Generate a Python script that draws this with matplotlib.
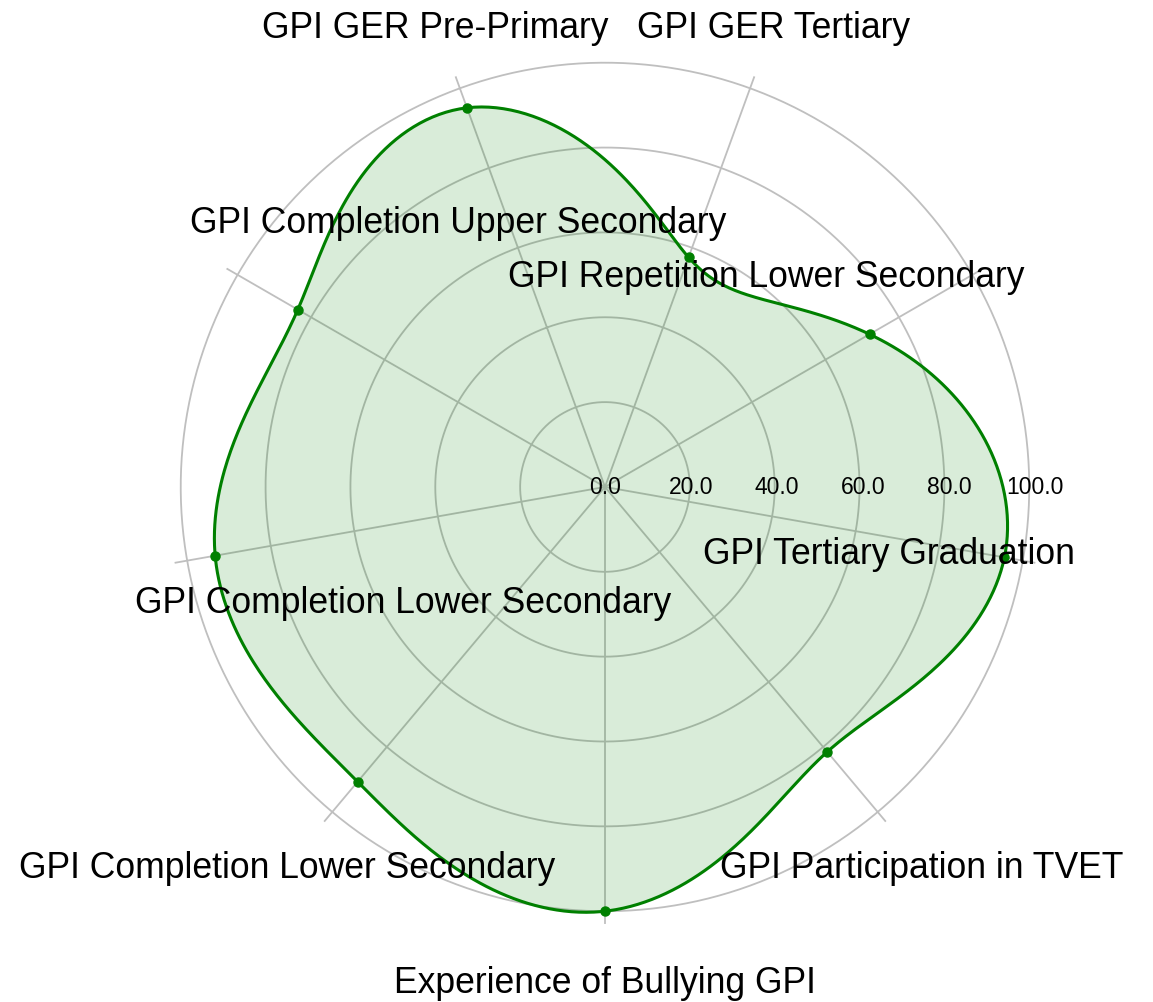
import numpy as np
import matplotlib
matplotlib.use("Agg")
import matplotlib.pyplot as plt
from matplotlib.transforms import ScaledTranslation

# ---------------- data ----------------
categories = [
    "GPI GER Pre-Primary",
    "GPI GER Tertiary",
    "GPI Repetition Lower Secondary",
    "GPI Tertiary Graduation",
    "GPI Participation in TVET",
    "Experience of Bullying GPI",
    "GPI Completion Lower Secondary",
    "GPI Completion Lower Secondary",
    "GPI Completion Upper Secondary",
]
values = [95.1, 57.6, 72.0, 95.6, 81.5, 100.0, 90.7, 93.3, 83.6]
r_ticks = [0, 20, 40, 60, 80, 100]
r_tick_labels = [f"{v:.1f}" for v in r_ticks]

# ---------------- layout / style ----------------
plt.rcParams["font.family"] = ["Liberation Sans", "DejaVu Sans"]
LINE_COLOR = "green"
GRID_COLOR = "#bfbfbf"
R_MAX = 103
R_LABEL = 116
# (horizontal alignment, dx pixels right, dy pixels down) for each category label
label_layout = [
    ("center", -1.6, 12.7),
    ("center", 0.6, 12.7),
    ("right", -6.4, 45.2),
    ("right", -14.9, -9.0),
    ("center", 0.5, 12.8),
    ("center", 0.0, 12.7),
    ("center", -1.5, 12.8),
    ("left", 14.9, 39.5),
    ("left", 11.4, -8.8),
]


def periodic_cubic_spline(y, samples_per_seg=80):
    """Smooth closed curve (periodic cubic spline) through equally spaced nodes."""
    y = np.asarray(y, dtype=float)
    n = len(y)
    h = 2 * np.pi / n
    A = np.zeros((n, n))
    for i in range(n):
        A[i, i] = 4.0
        A[i, (i - 1) % n] = 1.0
        A[i, (i + 1) % n] = 1.0
    rhs = 6.0 / h ** 2 * (np.roll(y, -1) - 2 * y + np.roll(y, 1))
    M = np.linalg.solve(A, rhs)
    t = np.linspace(0, 2 * np.pi, n * samples_per_seg + 1)
    idx = np.minimum((t // h).astype(int), n - 1)
    s = t - idx * h
    j = (idx + 1) % n
    yi, yj, Mi, Mj = y[idx], y[j], M[idx], M[j]
    val = (Mi * (h - s) ** 3 / (6 * h) + Mj * s ** 3 / (6 * h)
           + (yi - Mi * h ** 2 / 6) * (h - s) / h + (yj - Mj * h ** 2 / 6) * s / h)
    return t, val


n = len(categories)
angles = np.arange(n) * 2 * np.pi / n

fig = plt.figure(figsize=(11.53, 10.03), dpi=100)
ax = fig.add_axes([0.1457, 0.0778, 0.758, 0.8714], projection="polar")
ax.set_theta_offset(np.deg2rad(110))
ax.set_theta_direction(-1)
ax.set_ylim(0, R_MAX)

ax.set_xticks(angles)
ax.set_xticklabels([])
ax.set_yticks([])
ax.xaxis.grid(True, color=GRID_COLOR, linewidth=1.3, zorder=1)
ax.spines["polar"].set_visible(False)

# concentric grid circles
circ_t = np.linspace(0, 2 * np.pi, 721)
for rv in r_ticks[1:]:
    ax.plot(circ_t, np.full_like(circ_t, rv), color=GRID_COLOR, linewidth=1.3, zorder=1)

t_s, r_s = periodic_cubic_spline(values)
ax.fill(t_s, r_s, color=LINE_COLOR, alpha=0.15, linewidth=0, zorder=2)
ax.plot(t_s, r_s, color=LINE_COLOR, linewidth=2.2, zorder=3)
ax.plot(angles, values, "o", color=LINE_COLOR, markersize=6.5, zorder=4)

# radial tick labels along the horizontal (visual 0 degrees)
theta_zero = np.deg2rad(110)
for rv, lab in zip(r_ticks, r_tick_labels):
    tr = ax.transData + ScaledTranslation(0.06 * rv / fig.dpi, 0, fig.dpi_scale_trans)
    ax.text(theta_zero, rv, lab, transform=tr, ha="center", va="center",
            fontsize=16.5, zorder=5)

# category labels
for ang, lab, (ha, dx, dy) in zip(angles, categories, label_layout):
    tr = ax.transData + ScaledTranslation(dx / fig.dpi, -dy / fig.dpi, fig.dpi_scale_trans)
    ax.text(ang, R_LABEL, lab, transform=tr, ha=ha, va="baseline",
            fontsize=25.6, zorder=6, clip_on=False)

fig.savefig("out.png", dpi=100)
